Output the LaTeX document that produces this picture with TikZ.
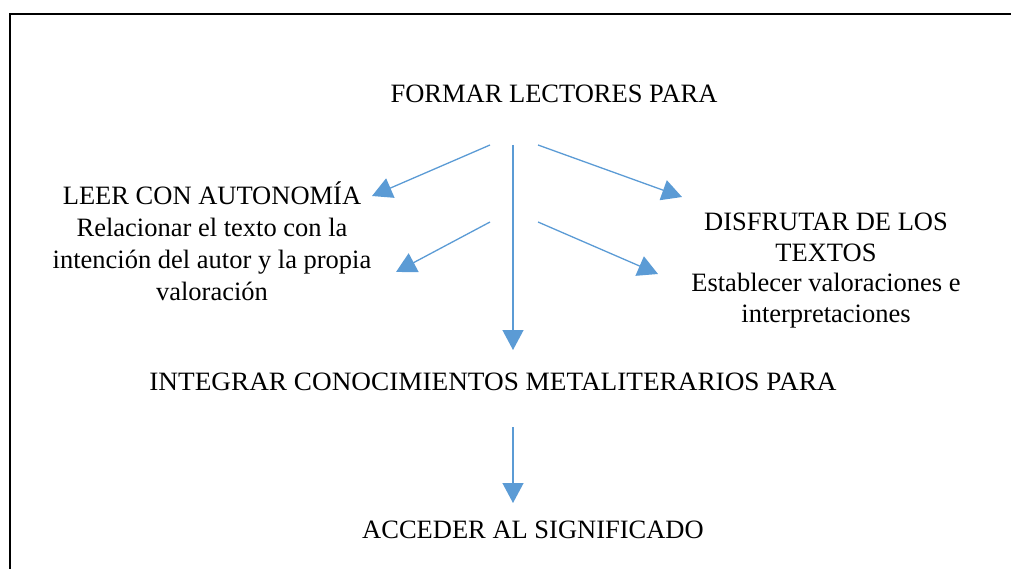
\documentclass[tikz,border=0pt]{standalone}
\usepackage{fontspec}
\setmainfont{Liberation Serif}
\usetikzlibrary{arrows.meta}
\definecolor{arrblue}{HTML}{5B9BD5}
\begin{document}
\begin{tikzpicture}[x=1pt,y=-1pt,
  lbl/.style={inner sep=0pt, font=\fontsize{26.5}{30.5}\selectfont, align=center, anchor=base},
  arr/.style={draw=arrblue, line width=1.3pt, -{Triangle[length=20pt,width=21pt]}},
  frame/.style={draw=black, line width=2pt}]
\useasboundingbox (0,0) rectangle (1011,569);
\draw[frame] (1011,14) -- (10,14) -- (10,569);
\node[lbl] (form) at (554,103) {FORMAR LECTORES PARA};
\node[lbl, font=\fontsize{26.5}{31.7}\selectfont] (leer) at (212,300) {LEER CON AUTONOMÍA\\Relacionar el texto con la\\intención del autor y la propia\\valoración};
\node[lbl] (disf) at (826,322) {DISFRUTAR DE LOS\\TEXTOS\\Establecer valoraciones e\\interpretaciones};
\node[lbl] (integ) at (493,390) {\scalebox{1.028}[1]{INTEGRAR CONOCIMIENTOS METALITERARIOS PARA}};
\node[lbl] (acc) at (533,538) {ACCEDER AL SIGNIFICADO};
\coordinate (c1s) at (490,145); \coordinate (c1e) at (372,196);
\coordinate (c2s) at (513,145); \coordinate (c2e) at (513,350);
\coordinate (c3s) at (538,145); \coordinate (c3e) at (682,197);
\coordinate (c4s) at (490,222); \coordinate (c4e) at (396,272);
\coordinate (c5s) at (538,222); \coordinate (c5e) at (658,274);
\coordinate (c6s) at (513,427); \coordinate (c6e) at (513,503);
\draw[arr] (c1s) -- (c1e);
\draw[arr] (c2s) -- (c2e);
\draw[arr] (c3s) -- (c3e);
\draw[arr] (c4s) -- (c4e);
\draw[arr] (c5s) -- (c5e);
\draw[arr] (c6s) -- (c6e);
\end{tikzpicture}
\end{document}
